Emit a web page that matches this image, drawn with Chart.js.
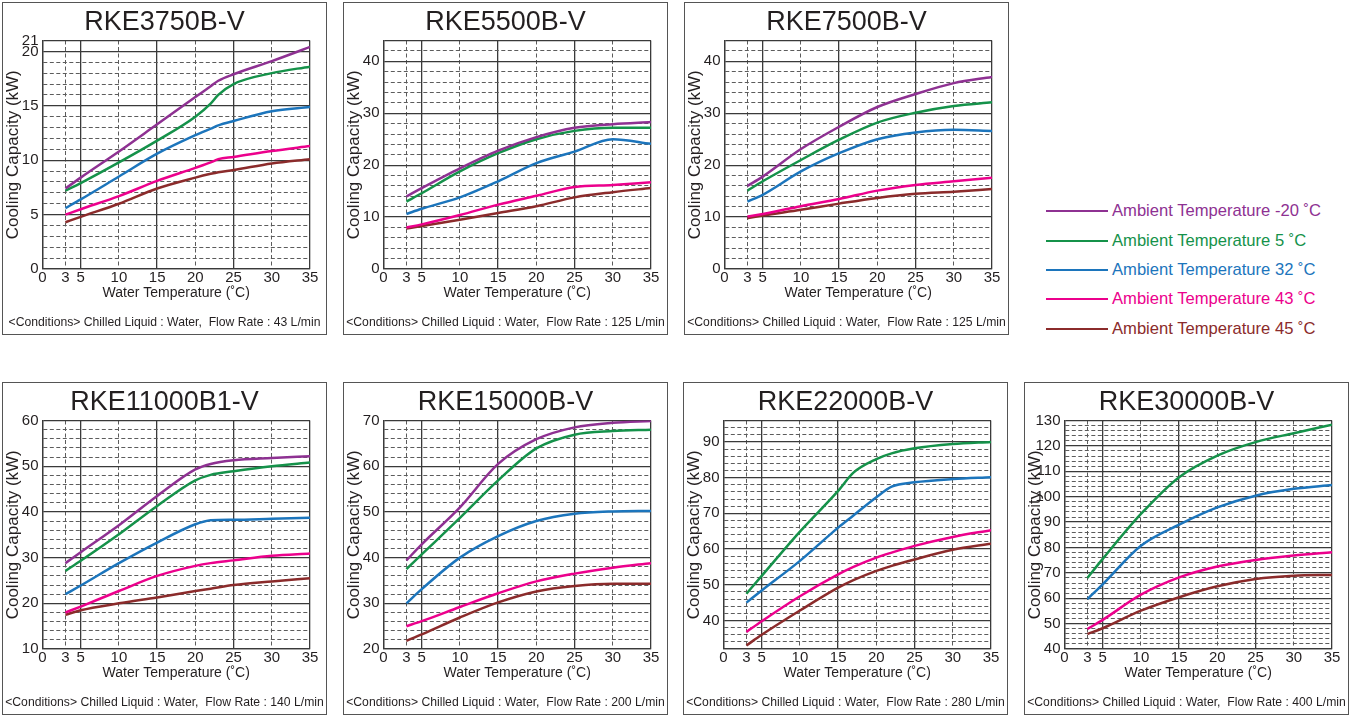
<!DOCTYPE html>
<html>
<head>
<meta charset="utf-8">
<script src="https://cdn.jsdelivr.net/npm/chart.js@4.4.1/dist/chart.umd.min.js"></script>
<style>
  body { margin: 0; background: #fff; font-family: "Liberation Sans", Arial, sans-serif; }
  .panel { position: absolute; width: 325px; height: 333px; border: 1px solid #555; box-sizing: border-box; }
  .panel canvas { display: block; }
  .legend-row { position: absolute; height: 20px; line-height: 20px; font-size: 16.6px; white-space: nowrap; }
  .legend-row .swatch { position: absolute; left: 0; top: 9px; width: 62px; height: 2px; }
  .legend-row .txt { position: absolute; left: 66px; top: 0; }
</style>
</head>
<body>

<div class="panel" style="left:2px;top:2px"><canvas id="c3750" width="323" height="331"></canvas></div>
<div class="panel" style="left:343px;top:2px"><canvas id="c5500" width="323" height="331"></canvas></div>
<div class="panel" style="left:684px;top:2px"><canvas id="c7500" width="323" height="331"></canvas></div>
<div class="panel" style="left:2px;top:382px"><canvas id="c11000" width="323" height="331"></canvas></div>
<div class="panel" style="left:343px;top:382px"><canvas id="c15000" width="323" height="331"></canvas></div>
<div class="panel" style="left:683px;top:382px"><canvas id="c22000" width="323" height="331"></canvas></div>
<div class="panel" style="left:1024px;top:382px"><canvas id="c30000" width="323" height="331"></canvas></div>
<div id="legend"></div>

<script>
// ---- shared axis / series info ----
const xTicks = [0, 3, 5, 10, 15, 20, 25, 30, 35];
const xSolid = [0, 5, 15, 25, 35];   // everything else on the x axis is dashed

const seriesNames = [
  'Ambient Temperature -20 ˚C',
  'Ambient Temperature 5 ˚C',
  'Ambient Temperature 32 ˚C',
  'Ambient Temperature 43 ˚C',
  'Ambient Temperature 45 ˚C'
];
const seriesColors = ['#8e3192', '#15924a', '#1c75bc', '#ec008c', '#8b2b2b'];

// ---- RKE3750B-V (43 L/min) ----
const water3750 = [3, 5, 10, 15, 20, 22, 23, 25, 30, 35];
const m20_3750 = [7.4, 8.4, 10.8, 13.3, 15.8, 16.8, 17.3, 17.9, 19.1, 20.4];
const a5_3750  = [7.2, 7.9, 9.8, 11.8, 14.0, 15.2, 16.0, 17.0, 18.0, 18.6];
const a32_3750 = [5.6, 6.4, 8.5, 10.6, 12.3, 12.9, 13.2, 13.6, 14.5, 14.9];
const a43_3750 = [5.0, 5.5, 6.7, 8.1, 9.3, 9.8, 10.1, 10.3, 10.85, 11.3];
const a45_3750 = [4.3, 4.8, 6.0, 7.4, 8.4, 8.75, 8.9, 9.1, 9.7, 10.1];
const yLabels3750 = [0, 5, 10, 15, 20, 21];

// ---- RKE5500B-V (125 L/min) ----
const water5500 = [3, 5, 10, 15, 20, 25, 30, 35];
const m20_5500 = [14.0, 15.6, 19.4, 22.8, 25.4, 27.2, 27.9, 28.3];
const a5_5500  = [13.0, 14.6, 18.8, 22.3, 25.0, 26.6, 27.2, 27.2];
const a32_5500 = [10.6, 11.6, 13.8, 16.9, 20.4, 22.6, 25.0, 24.1];
const a43_5500 = [8.0, 8.6, 10.4, 12.4, 14.1, 15.8, 16.2, 16.7];
const a45_5500 = [7.8, 8.3, 9.5, 10.8, 12.1, 13.8, 14.8, 15.6];
const yLabels5500 = [0, 10, 20, 30, 40];

// ---- RKE7500B-V (125 L/min) ----
const water7500 = [3, 5, 10, 15, 20, 25, 30, 35];
const m20_7500 = [16.0, 17.8, 23.1, 27.4, 31.2, 33.7, 35.8, 37.0];
const a5_7500  = [15.1, 16.9, 21.0, 24.9, 28.2, 30.1, 31.4, 32.1];
const a32_7500 = [13.0, 14.3, 18.8, 22.3, 25.0, 26.3, 26.8, 26.6];
const a43_7500 = [10.1, 10.6, 12.1, 13.5, 15.1, 16.2, 16.9, 17.6];
const a45_7500 = [9.8, 10.3, 11.4, 12.6, 13.7, 14.5, 14.9, 15.4];
const yLabels7500 = [0, 10, 20, 30, 40];

// ---- RKE11000B1-V (140 L/min) ----
const water11000 = [3, 5, 10, 15, 20, 22, 25, 30, 35];
const m20_11000 = [28.8, 31.2, 37.1, 43.5, 49.3, 50.5, 51.3, 51.8, 52.2];
const a5_11000  = [27.1, 29.3, 35.1, 41.3, 46.9, 48.1, 48.9, 50.0, 50.8];
const a32_11000 = [22.0, 23.9, 28.8, 33.3, 37.3, 38.2, 38.3, 38.5, 38.7];
const a43_11000 = [18.0, 19.3, 22.7, 26.0, 28.2, 28.8, 29.4, 30.4, 30.9];
const a45_11000 = [17.5, 18.5, 20.0, 21.3, 22.7, 23.2, 24.0, 24.8, 25.5];
const yLabels11000 = [10, 20, 30, 40, 50, 60];

// ---- RKE15000B-V (200 L/min) ----
const water15000 = [3, 5, 10, 15, 20, 25, 30, 35];
const m20_15000 = [39.4, 42.9, 51.0, 60.5, 65.9, 68.5, 69.5, 69.9];
const a5_15000  = [37.5, 40.7, 48.7, 56.9, 63.9, 66.9, 67.7, 68.0];
const a32_15000 = [30.0, 33.1, 40.0, 44.7, 48.0, 49.6, 50.1, 50.2];
const a43_15000 = [25.0, 26.1, 29.2, 32.2, 34.8, 36.5, 37.8, 38.8];
const a45_15000 = [21.8, 23.2, 26.9, 30.2, 32.6, 33.8, 34.3, 34.3];
const yLabels15000 = [20, 30, 40, 50, 60, 70];

// ---- RKE22000B-V (280 L/min), no -20 curve ----
const water22000 = [3, 5, 10, 15, 17, 20, 22, 25, 30, 35];
const a5_22000  = [47.5, 52.5, 64.9, 76.3, 81.4, 85.2, 86.8, 88.2, 89.4, 90.0];
const a32_22000 = [45.0, 48.4, 56.7, 66.0, 69.4, 74.5, 77.5, 78.7, 79.6, 80.1];
const a43_22000 = [36.8, 39.8, 46.8, 52.9, 55.0, 57.6, 59.0, 60.9, 63.4, 65.3];
const a45_22000 = [33.0, 36.0, 42.8, 49.2, 51.3, 53.9, 55.3, 57.1, 59.8, 61.5];
const yLabels22000 = [40, 50, 60, 70, 80, 90];

// ---- RKE30000B-V (400 L/min), no -20 curve ----
const water30000 = [3, 5, 10, 15, 20, 25, 30, 35];
const a5_30000  = [68.0, 75.5, 93.2, 107.7, 116.2, 121.5, 125.0, 128.3];
const a32_30000 = [59.7, 65.5, 80.7, 89.0, 95.8, 100.4, 103.1, 104.6];
const a43_30000 = [47.9, 51.5, 61.4, 68.2, 72.5, 75.1, 76.8, 78.1];
const a45_30000 = [45.9, 48.2, 55.1, 60.4, 64.7, 67.6, 68.9, 69.2];
const yLabels30000 = [40, 50, 60, 70, 80, 90, 100, 110, 120, 130];

Chart.defaults.font.family = '"Liberation Sans", Arial, sans-serif';
Chart.defaults.color = '#231f20';

const MAJOR_COLOR = '#3a3a3a';
const MINOR_COLOR = '#5c5c5c';

// grid style shared by both axes: isMajor decides solid or dashed
function gridFor(isMajor) {
    return {
        grid: {
            drawTicks: false,
            color: (ctx) => ctx.tick && !isMajor(ctx.tick.value) ? MINOR_COLOR : MAJOR_COLOR,
            lineWidth: (ctx) => ctx.tick && !isMajor(ctx.tick.value) ? 1 : 1.3
        },
        border: {
            display: true,
            color: MAJOR_COLOR,
            width: 1.3,
            // in v4 the grid line dash comes from border.dash (per tick)
            dash: (ctx) => ctx.tick && !isMajor(ctx.tick.value) ? [4, 2.5] : []
        }
    };
}

function createCapacityChart(canvasId, title, flowRate, xs, seriesValues, colorIdx,
                             yMin, yMax, yStep, yMajor, yLabels) {
    const ctx = document.getElementById(canvasId).getContext('2d');

    const datasets = seriesValues.map((vals, i) => ({
        label: seriesNames[colorIdx[i]],
        data: xs.map((x, j) => ({ x, y: vals[j] })),
        borderColor: seriesColors[colorIdx[i]],
        borderWidth: 2.5,
        pointRadius: 0,
        tension: 0.4,
        cubicInterpolationMode: 'monotone',
        fill: false
    }));

    const xGrid = gridFor((v) => xSolid.includes(v));
    const yGrid = gridFor((v) => v % yMajor === 0 || v === yMin || v === yMax);

    return new Chart(ctx, {
        type: 'line',
        data: { datasets },
        options: {
            responsive: false,
            animation: false,
            layout: { padding: 0 },
            scales: {
                x: {
                    type: 'linear',
                    min: 0,
                    max: 35,
                    afterBuildTicks: (scale) => { scale.ticks = xTicks.map(v => ({ value: v })); },
                    // fixed height; right gap comes from the scale padding so titles stay centred on the box
                    afterFit: (scale) => { scale.height = 32.6; scale.paddingLeft = 0; scale.paddingRight = 16; },
                    ticks: { autoSkip: false, maxRotation: 0, padding: 0, font: { size: 15 } },
                    grid: xGrid.grid,
                    border: xGrid.border,
                    title: {
                        display: true,
                        text: 'Water Temperature (˚C)',
                        font: { size: 14 },
                        padding: 0
                    }
                },
                y: {
                    min: yMin,
                    max: yMax,
                    afterFit: (scale) => { scale.width = 39.5; scale.paddingTop = 0; scale.paddingBottom = 0; },
                    ticks: {
                        stepSize: yStep,
                        autoSkip: false,
                        padding: 4,
                        font: { size: 15 },
                        callback: (value) => yLabels.includes(value) ? String(value) : ''
                    },
                    grid: yGrid.grid,
                    border: yGrid.border,
                    title: {
                        display: true,
                        text: 'Cooling Capacity (kW)',
                        font: { size: 17 },
                        padding: 0
                    }
                }
            },
            plugins: {
                legend: { display: false },
                tooltip: { enabled: false },
                title: {
                    display: true,
                    text: title,
                    font: { size: 27, weight: 'normal' },
                    padding: { top: 3, bottom: 2.1 }
                },
                subtitle: {
                    display: true,
                    position: 'bottom',
                    text: '<Conditions> Chilled Liquid : Water,  Flow Rate : ' + flowRate + ' L/min',
                    font: { size: 12.2 },
                    padding: { top: 13.4, bottom: 4.3 }
                }
            }
        }
    });
}

const ALL5 = [0, 1, 2, 3, 4];
const NO_M20 = [1, 2, 3, 4];

createCapacityChart('c3750', 'RKE3750B-V', 43, water3750,
    [m20_3750, a5_3750, a32_3750, a43_3750, a45_3750], ALL5, 0, 21, 1, 5, yLabels3750);
createCapacityChart('c5500', 'RKE5500B-V', 125, water5500,
    [m20_5500, a5_5500, a32_5500, a43_5500, a45_5500], ALL5, 0, 44, 2, 10, yLabels5500);
createCapacityChart('c7500', 'RKE7500B-V', 125, water7500,
    [m20_7500, a5_7500, a32_7500, a43_7500, a45_7500], ALL5, 0, 44, 2, 10, yLabels7500);
createCapacityChart('c11000', 'RKE11000B1-V', 140, water11000,
    [m20_11000, a5_11000, a32_11000, a43_11000, a45_11000], ALL5, 10, 60, 2, 10, yLabels11000);
createCapacityChart('c15000', 'RKE15000B-V', 200, water15000,
    [m20_15000, a5_15000, a32_15000, a43_15000, a45_15000], ALL5, 20, 70, 2, 10, yLabels15000);
createCapacityChart('c22000', 'RKE22000B-V', 280, water22000,
    [a5_22000, a32_22000, a43_22000, a45_22000], NO_M20, 32, 96, 2, 10, yLabels22000);
createCapacityChart('c30000', 'RKE30000B-V', 400, water30000,
    [a5_30000, a32_30000, a43_30000, a45_30000], NO_M20, 40, 130, 2, 10, yLabels30000);

// shared legend on the right of the top row
const legendTops = [201, 231, 260, 289, 319];
const legend = document.getElementById('legend');
seriesNames.forEach((name, i) => {
    const row = document.createElement('div');
    row.className = 'legend-row';
    row.style.left = '1046px';
    row.style.top = legendTops[i] + 'px';
    row.style.color = seriesColors[i];
    row.innerHTML = '<div class="swatch" style="background:' + seriesColors[i] + '"></div><span class="txt"></span>';
    row.querySelector('.txt').textContent = name;
    legend.appendChild(row);
});
</script>
</body>
</html>
